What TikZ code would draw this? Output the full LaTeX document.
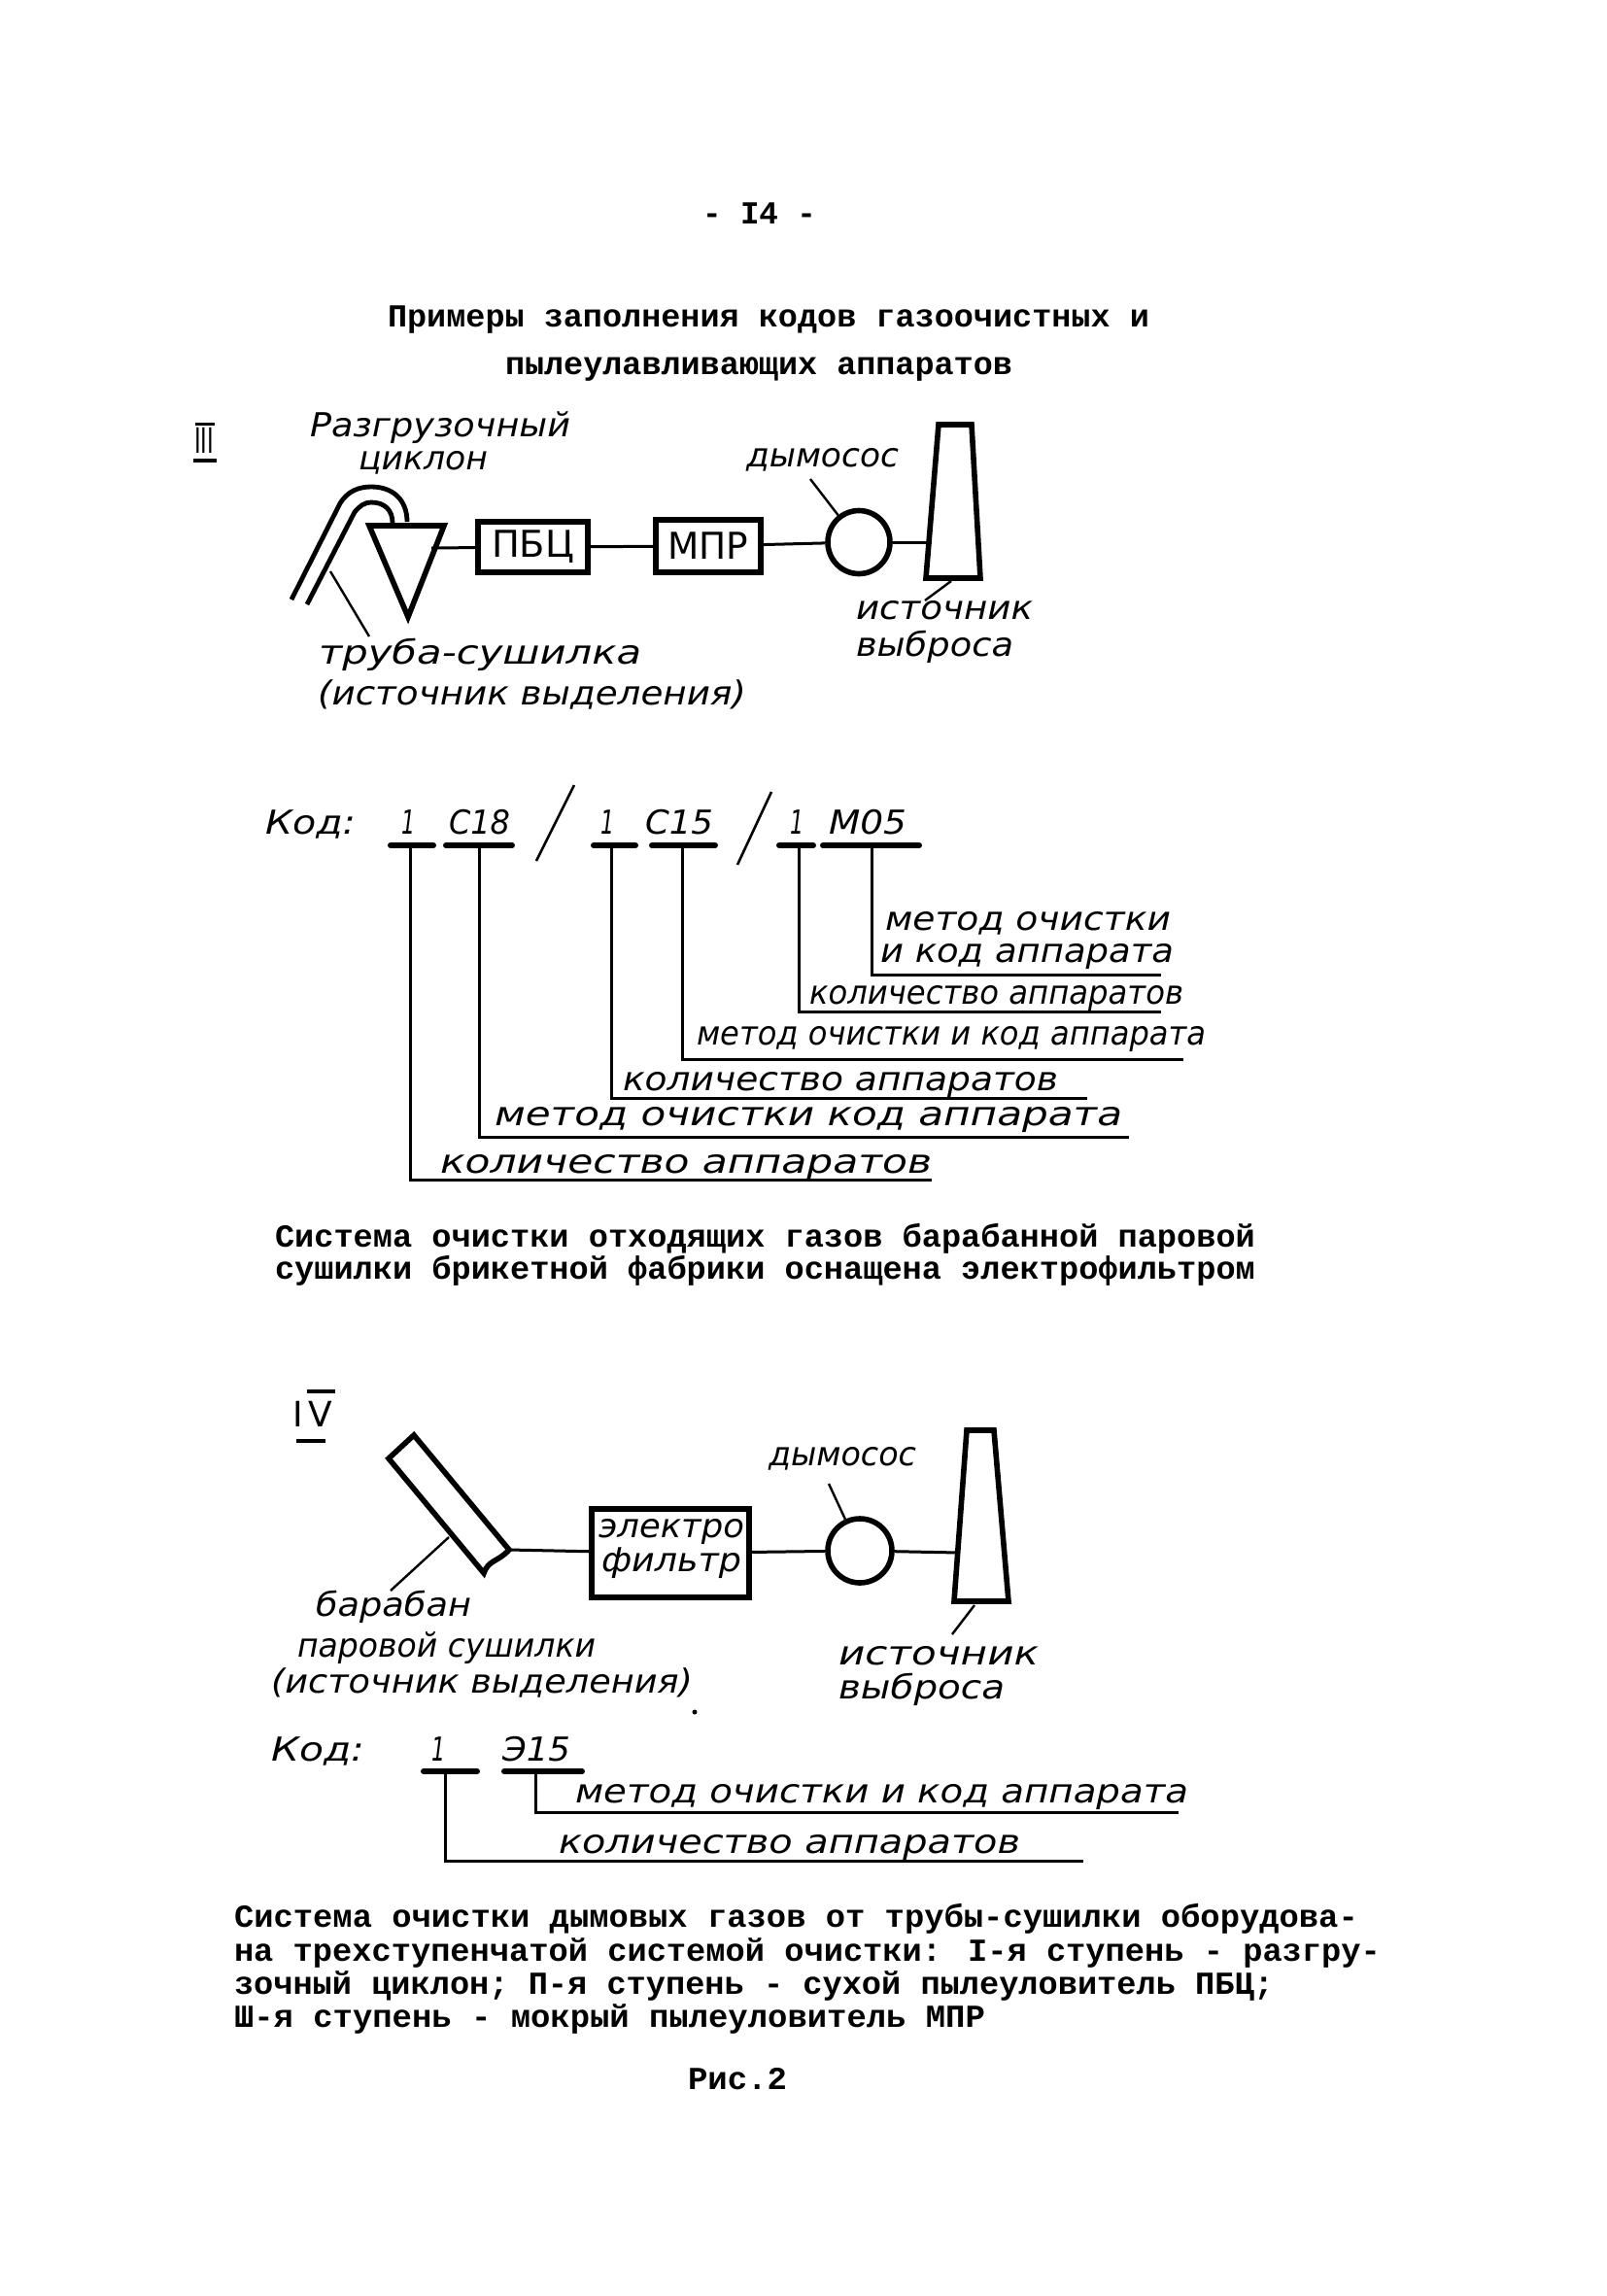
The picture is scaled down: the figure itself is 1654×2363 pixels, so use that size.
\documentclass[tikz,border=0pt]{standalone}
\usepackage{fontspec}
\usepackage{graphicx}
\newfontfamily\hfont{DejaVu Sans}
\newfontfamily\tfont{Liberation Mono}
\newlength\pxu \setlength\pxu{0.5pt}
\newcommand\hw[5]{\node[handtext] (#1) at (#2,#3) {\resizebox{#4\pxu}{\height}{#5}};}
\newcommand\tw[5]{\node[typetext] (#1) at (#2,#3) {\resizebox{#4\pxu}{\height}{#5}};}
\tikzset{
  handtext/.style={anchor=base west,inner sep=0pt,outer sep=0pt,font=\hfont\itshape\fontsize{17}{19}\selectfont},
  typetext/.style={anchor=base west,inner sep=0pt,outer sep=0pt,font=\tfont\bfseries\fontsize{16.5}{18}\selectfont},
  heavy/.style={line width=2.8pt,line join=miter},
  thin line/.style={line width=1.5pt},
  bar/.style={line width=3pt,line cap=round},
  unit/.style={draw,heavy,inner sep=0pt,font=\hfont\fontsize{19}{21}\selectfont},
  fan/.style={draw,heavy,ellipse,inner sep=0pt},
}
\usetikzlibrary{shapes.geometric}
\begin{document}
\begin{tikzpicture}[x=0.5pt,y=-0.5pt]
\useasboundingbox (0,0) rectangle (1654,2363);
% header
\tw{pg}{723}{230}{117}{- I4 -}
\tw{t1}{399}{336}{784}{Примеры заполнения кодов газоочистных и}
\tw{t2}{520}{385}{522}{пылеулавливающих аппаратов}
% --- III ---
\node[inner sep=0pt,font=\hfont\fontsize{18}{20}\selectfont] (m3) at (210,453) {\resizebox{20\pxu}{\height}{III}};
\coordinate (m3a) at (201,436); \coordinate (m3b) at (221,436);
\coordinate (m3c) at (199,474); \coordinate (m3d) at (223,474);
\draw[thin line] (m3a) -- (m3b);
\draw[line width=2pt] (m3c) -- (m3d);
\coordinate (ta) at (380,541); \coordinate (tb) at (457,541); \coordinate (tc) at (420,635);
\draw[heavy] (ta) -- (tb) -- (tc) -- cycle;
\coordinate (to1) at (300,617); \coordinate (to2) at (350,518); \coordinate (to3) at (382,501); \coordinate (to4) at (419,537);
\coordinate (ti1) at (316,622); \coordinate (ti2) at (365,527); \coordinate (ti3) at (382,517); \coordinate (ti4) at (404,538);
\draw[line width=2.4pt] (to1) -- (to2) .. controls (358,505) and (370,501) .. (to3) .. controls (405,501) and (419,515) .. (to4);
\draw[line width=2.4pt] (ti1) -- (ti2) .. controls (370,521) and (375,517) .. (ti3) .. controls (396,517) and (404,525) .. (ti4);
\coordinate (tri) at (444,564);
\node[unit,minimum width=113\pxu,minimum height=52\pxu] (pbc) at (548.5,563) {\resizebox{85\pxu}{\height}{ПБЦ}};
\node[unit,minimum width=108\pxu,minimum height=54\pxu] (mpr) at (729,562) {\resizebox{83\pxu}{\height}{МПР}};
\node[fan,minimum width=64\pxu,minimum height=65\pxu] (fan3) at (884,558) {};
\coordinate (c1) at (966,437); \coordinate (c2) at (1000,437); \coordinate (c3) at (1009,595); \coordinate (c4) at (953,595);
\coordinate (c5) at (959,558);
\draw[heavy] (c1) -- (c2) -- (c3) -- (c4) -- cycle;
\draw[thin line] (tri) -- (pbc);
\draw[thin line] (pbc) -- (mpr);
\draw[thin line] (mpr) -- (fan3);
\draw[thin line] (fan3) -- (c5);
\coordinate (l1a) at (340,588); \coordinate (l1b) at (380,655);
\draw[line width=1.2pt] (l1a) -- (l1b);
\coordinate (l2a) at (834,493);
\draw[line width=1.2pt] (l2a) -- (fan3);
\coordinate (l3a) at (979,598); \coordinate (l3b) at (952,618);
\draw[line width=1.2pt] (l3a) -- (l3b);
\hw{a1}{319}{449}{268}{Разгрузочный}
\hw{a2}{369}{483}{133}{циклон}
\hw{a3}{768}{480}{157}{дымосос}
\hw{a4}{328}{683}{332}{труба-сушилка}
\hw{a5}{327}{725}{441}{(источник выделения)}
\hw{a6}{881}{637}{182}{источник}
\hw{a7}{881}{675}{162}{выброса}
% code 1
\hw{k1}{273}{858}{93}{Код:}
\hw{k2}{413}{858}{14}{1}
\hw{k3}{462}{858}{63}{С18}
\hw{k4}{618}{858}{14}{1}
\hw{k5}{664}{858}{70}{С15}
\hw{k6}{813}{858}{14}{1}
\hw{k7}{853}{858}{80}{М05}
\coordinate (b1a) at (402,870); \coordinate (b1b) at (446,870);
\coordinate (b2a) at (459,870); \coordinate (b2b) at (527,870);
\coordinate (b3a) at (611,870); \coordinate (b3b) at (654,870);
\coordinate (b4a) at (671,870); \coordinate (b4b) at (736,870);
\coordinate (b5a) at (802,870); \coordinate (b5b) at (837,870);
\coordinate (b6a) at (847,870); \coordinate (b6b) at (946,870);
\foreach \s in {1,...,6} \draw[bar] (b\s a) -- (b\s b);
\coordinate (s1a) at (591,808); \coordinate (s1b) at (552,886);
\coordinate (s2a) at (794,815); \coordinate (s2b) at (759,890);
\draw[line width=1.3pt] (s1a) -- (s1b);
\draw[line width=1.3pt] (s2a) -- (s2b);
\coordinate (v1) at (422,870); \coordinate (e1) at (959,1214);
\coordinate (v2) at (493,870); \coordinate (e2) at (1162,1170);
\coordinate (v3) at (629,870); \coordinate (e3) at (1119,1130);
\coordinate (v4) at (702,870); \coordinate (e4) at (1218,1090);
\coordinate (v5) at (822,870); \coordinate (e5) at (1195,1041);
\coordinate (v6) at (897,870); \coordinate (e6) at (1195,1003);
\foreach \s in {1,...,6} \draw[thin line] (v\s) |- (e\s);
\hw{n1}{911}{957}{294}{метод очистки}
\hw{n2}{906}{990}{302}{и код аппарата}
\hw{n3}{833}{1033}{385}{количество аппаратов}
\hw{n4}{717}{1075}{524}{метод очистки и код аппарата}
\hw{n5}{641}{1122}{448}{количество аппаратов}
\hw{n6}{509}{1158}{646}{метод очистки  код аппарата}
\hw{n7}{453}{1207}{506}{количество аппаратов}
\tw{p1}{283}{1283}{1009}{Система очистки отходящих газов барабанной паровой}
\tw{p2}{283}{1316}{1009}{сушилки брикетной фабрики оснащена электрофильтром}
% --- IV ---
\node[inner sep=0pt,font=\hfont\fontsize{18}{20}\selectfont] (m4) at (322,1455) {I\,V};
\coordinate (m4a) at (316,1432); \coordinate (m4b) at (345,1432);
\coordinate (m4c) at (305,1483); \coordinate (m4d) at (335,1483);
\draw[line width=2pt] (m4a) -- (m4b);
\draw[line width=2pt] (m4c) -- (m4d);
\coordinate (d1) at (426,1477); \coordinate (d2) at (400,1501); \coordinate (d3) at (498,1619); \coordinate (d4) at (524,1595);
\draw[heavy] (d1) -- (d2) -- (d3) .. controls (503,1605) and (512,1608) .. (d4) -- cycle;
\node[unit,minimum width=162\pxu,minimum height=91\pxu] (ef) at (690,1598.5) {};
\hw{f1}{616}{1582}{150}{электро}
\hw{f2}{619}{1617}{144}{фильтр}
\node[fan,minimum width=66\pxu,minimum height=66\pxu] (fan4) at (885,1596) {};
\coordinate (c6) at (995,1472); \coordinate (c7) at (1023,1472); \coordinate (c8) at (1038,1648); \coordinate (c9) at (982,1648);
\coordinate (c10) at (988,1598);
\draw[heavy] (c6) -- (c7) -- (c8) -- (c9) -- cycle;
\draw[thin line] (d4) -- (ef);
\draw[thin line] (ef) -- (fan4);
\draw[thin line] (fan4) -- (c10);
\coordinate (l4a) at (853,1527);
\draw[line width=1.2pt] (l4a) -- (fan4);
\coordinate (l5a) at (1003,1652); \coordinate (l5b) at (980,1682);
\draw[line width=1.2pt] (l5a) -- (l5b);
\coordinate (l6a) at (462,1582); \coordinate (l6b) at (402,1637);
\draw[line width=1.2pt] (l6a) -- (l6b);
\hw{g1}{791}{1508}{152}{дымосос}
\hw{g2}{325}{1663}{160}{барабан}
\hw{g3}{306}{1705}{307}{паровой сушилки}
\hw{g4}{279}{1742}{434}{(источник выделения)}
\fill (715,1762) circle[radius=2.5];
\hw{g5}{863}{1713}{206}{источник}
\hw{g6}{863}{1748}{171}{выброса}
\hw{h1}{279}{1812}{96}{Код:}
\hw{h2}{444}{1812}{14}{1}
\hw{h3}{517}{1812}{70}{Э15}
\coordinate (b7a) at (436,1823); \coordinate (b7b) at (491,1823);
\coordinate (b8a) at (519,1823); \coordinate (b8b) at (599,1823);
\draw[bar] (b7a) -- (b7b);
\draw[bar] (b8a) -- (b8b);
\coordinate (v7) at (458,1823); \coordinate (e7) at (1115,1915);
\coordinate (v8) at (551,1823); \coordinate (e8) at (1213,1865);
\draw[thin line] (v7) |- (e7);
\draw[thin line] (v8) |- (e8);
\hw{h4}{592}{1855}{631}{метод очистки и код аппарата}
\hw{h5}{575}{1907}{475}{количество аппаратов}
\tw{q1}{241}{1983}{1157}{Система очистки дымовых газов от трубы-сушилки оборудова-}
\tw{q2}{241}{2018}{1180}{на трехступенчатой системой очистки: I-я ступень - разгру-}
\tw{q3}{241}{2052}{1070}{зочный циклон; П-я ступень - сухой пылеуловитель ПБЦ;}
\tw{q4}{241}{2086}{773}{Ш-я ступень - мокрый пылеуловитель МПР}
\tw{q5}{708}{2150}{102}{Рис.2}
\end{tikzpicture}
\end{document}
